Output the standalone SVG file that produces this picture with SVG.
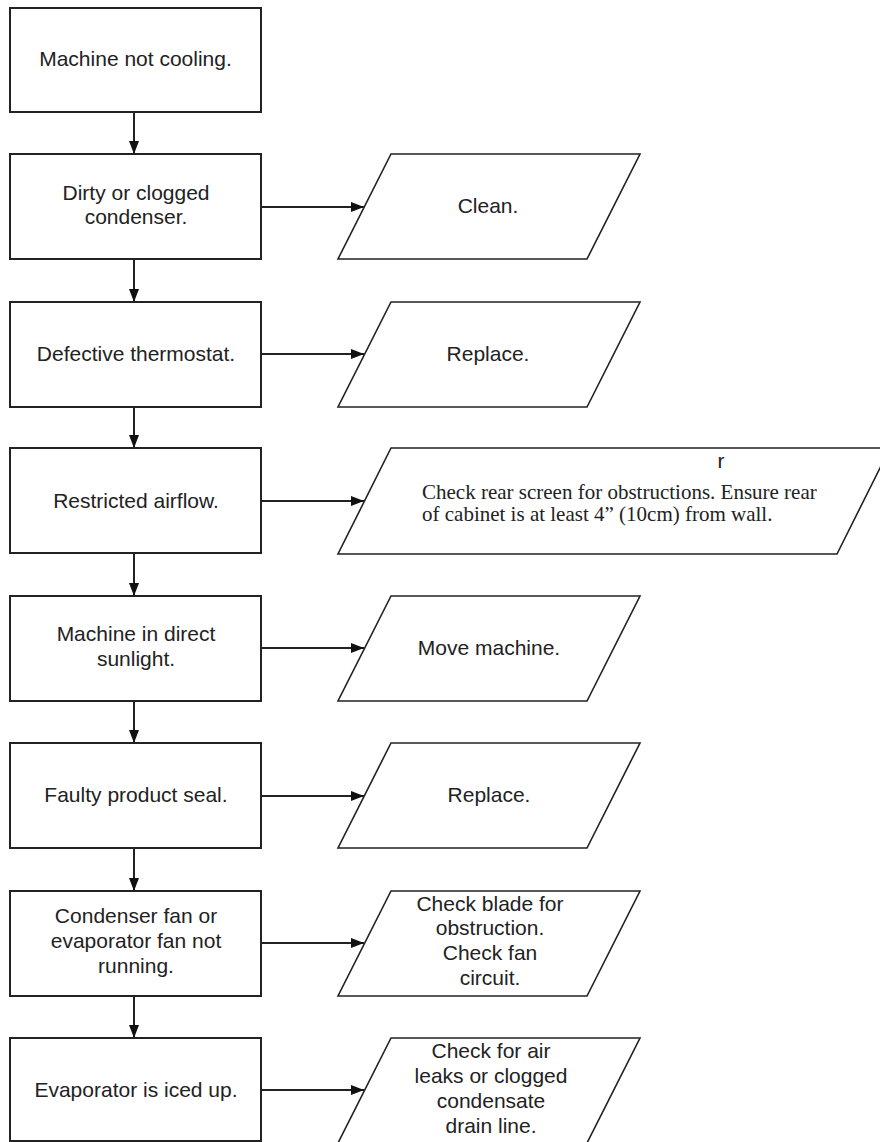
<svg xmlns="http://www.w3.org/2000/svg" width="880" height="1142" viewBox="0 0 880 1142">
<style>
.box{fill:#fff;stroke:#222;stroke-width:2}
.io{fill:#fff;stroke:#222;stroke-width:1.6}
.t{font-family:"Liberation Sans",Arial,sans-serif;font-size:21px;fill:#222;text-anchor:middle}
.s{font-family:"Liberation Serif","Times New Roman",serif;font-size:21px;fill:#222}
.c{stroke:#222;stroke-width:2;fill:none;marker-end:url(#ah)}
</style>
<defs>
<marker id="ah" markerUnits="userSpaceOnUse" viewBox="0 0 13 10" refX="13" refY="5" markerWidth="13" markerHeight="10" orient="auto">
<path d="M0,0 L13,5 L0,10 z" fill="#111"/>
</marker>
</defs>
<rect width="880" height="1142" fill="#fff"/>
<g id="connectors">
<line class="c" x1="134" y1="112" x2="134" y2="154"/>
<line class="c" x1="134" y1="259" x2="134" y2="302"/>
<line class="c" x1="134" y1="407" x2="134" y2="448"/>
<line class="c" x1="134" y1="553" x2="134" y2="596"/>
<line class="c" x1="134" y1="701" x2="134" y2="743"/>
<line class="c" x1="134" y1="848" x2="134" y2="891"/>
<line class="c" x1="134" y1="996" x2="134" y2="1038"/>
<line class="c" x1="261" y1="207" x2="364" y2="207"/>
<line class="c" x1="261" y1="354" x2="364" y2="354"/>
<line class="c" x1="261" y1="501" x2="364" y2="501"/>
<line class="c" x1="261" y1="648" x2="364" y2="648"/>
<line class="c" x1="261" y1="796" x2="364" y2="796"/>
<line class="c" x1="261" y1="943" x2="364" y2="943"/>
<line class="c" x1="261" y1="1090" x2="364" y2="1090"/>
</g>
<g id="n1">
<rect class="box" x="10" y="8" width="251" height="104"/>
<text class="t" x="135.5" y="66">Machine not cooling.</text>
</g>
<g id="n2">
<rect class="box" x="10" y="154" width="251" height="105"/>
<text class="t" x="136" y="200">Dirty or clogged</text>
<text class="t" x="136" y="224">condenser.</text>
</g>
<g id="p2">
<polygon class="io" points="391,154 640,154 587,259 338,259"/>
<text class="t" x="488" y="213">Clean.</text>
</g>
<g id="n3">
<rect class="box" x="10" y="302" width="251" height="105"/>
<text class="t" x="136" y="361">Defective thermostat.</text>
</g>
<g id="p3">
<polygon class="io" points="391,302 640,302 587,407 338,407"/>
<text class="t" x="488" y="361">Replace.</text>
</g>
<g id="n4">
<rect class="box" x="10" y="448" width="251" height="105"/>
<text class="t" x="136" y="508">Restricted airflow.</text>
</g>
<g id="p4">
<polygon class="io" points="391,448 890,448 837,554 338,554"/>
<text class="t" x="721" y="468">r</text>
<text class="s" x="422" y="499">Check rear screen for obstructions. Ensure rear</text>
<text class="s" x="422" y="521">of cabinet is at least 4” (10cm) from wall.</text>
</g>
<g id="n5">
<rect class="box" x="10" y="596" width="251" height="105"/>
<text class="t" x="136" y="641">Machine in direct</text>
<text class="t" x="136" y="666">sunlight.</text>
</g>
<g id="p5">
<polygon class="io" points="391,596 640,596 587,701 338,701"/>
<text class="t" x="489" y="655">Move machine.</text>
</g>
<g id="n6">
<rect class="box" x="10" y="743" width="251" height="105"/>
<text class="t" x="136" y="802">Faulty product seal.</text>
</g>
<g id="p6">
<polygon class="io" points="391,743 640,743 587,848 338,848"/>
<text class="t" x="489" y="802">Replace.</text>
</g>
<g id="n7">
<rect class="box" x="10" y="891" width="251" height="105"/>
<text class="t" x="136" y="923">Condenser fan or</text>
<text class="t" x="136" y="948">evaporator fan not</text>
<text class="t" x="136" y="973">running.</text>
</g>
<g id="p7">
<polygon class="io" points="391,891 640,891 587,996 338,996"/>
<text class="t" x="490" y="911">Check blade for</text>
<text class="t" x="490" y="935">obstruction.</text>
<text class="t" x="490" y="960">Check fan</text>
<text class="t" x="490" y="985">circuit.</text>
</g>
<g id="n8">
<rect class="box" x="10" y="1038" width="251" height="103"/>
<text class="t" x="136" y="1097">Evaporator is iced up.</text>
</g>
<g id="p8">
<polygon class="io" points="391,1038 640,1038 587,1143 338,1143"/>
<text class="t" x="491" y="1058">Check for air</text>
<text class="t" x="491" y="1083">leaks or clogged</text>
<text class="t" x="491" y="1108">condensate</text>
<text class="t" x="491" y="1133">drain line.</text>
</g>
</svg>
